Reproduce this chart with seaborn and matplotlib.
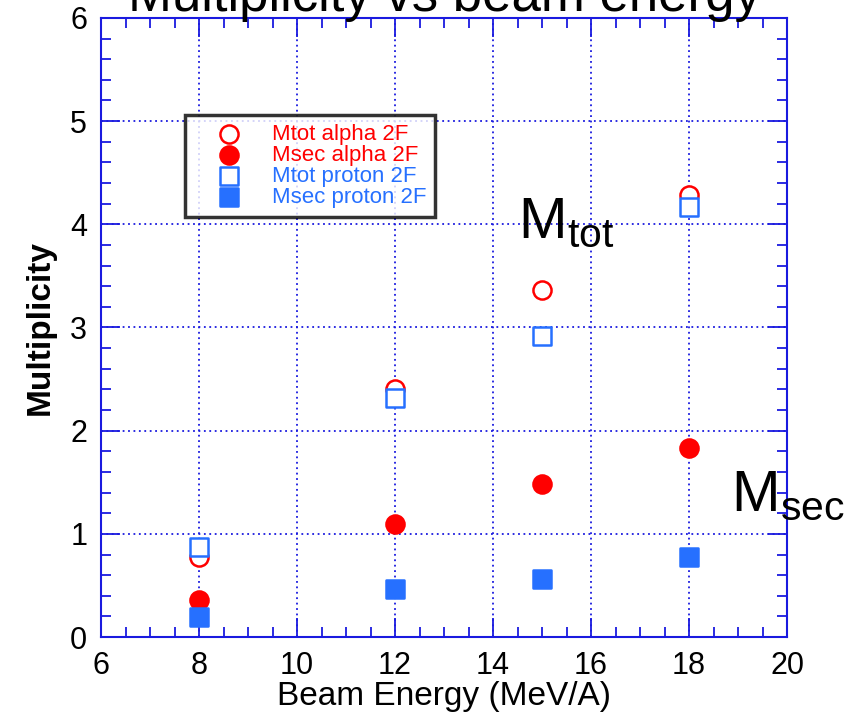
import pandas as pd
import matplotlib.pyplot as plt
import seaborn as sns
from matplotlib.ticker import MultipleLocator

sns.set_style("white", {'axes.labelcolor': 'black', 'text.color': 'black',
                        'xtick.color': 'black', 'ytick.color': 'black'})
plt.rcParams['font.family'] = ['Liberation Sans', 'DejaVu Sans']
plt.rcParams['mathtext.fontset'] = 'custom'
plt.rcParams['mathtext.rm'] = 'Liberation Sans'

# dati
energy = [8, 12, 15, 18]
mtot_alpha = [0.78, 2.40, 3.36, 4.28]
msec_alpha = [0.36, 1.10, 1.48, 1.83]
mtot_proton = [0.87, 2.32, 2.92, 4.17]
msec_proton = [0.19, 0.47, 0.56, 0.78]

red = '#ff0000'
blue = '#2670ff'
frame = '#1a1adf'

fig = plt.figure(figsize=(8.59, 7.15), dpi=100)
ax = fig.add_axes([0.1176, 0.109, 0.7986, 0.866])

series = [
    ('Mtot alpha 2F', mtot_alpha, 'o', 'white', red),
    ('Msec alpha 2F', msec_alpha, 'o', red, red),
    ('Mtot proton 2F', mtot_proton, 's', 'white', blue),
    ('Msec proton 2F', msec_proton, 's', blue, blue),
]
for label, vals, mk, fc, ec in series:
    df = pd.DataFrame({'energy': energy, 'mult': vals})
    sz = 170 if mk == 'o' else 150
    sns.scatterplot(data=df, x='energy', y='mult', marker=mk, s=sz,
                    facecolor=fc, edgecolor=ec, linewidth=1.8,
                    label=label, ax=ax, zorder=3)

ax.set_xlim(6, 20)
ax.set_ylim(0, 6)
ax.xaxis.set_major_locator(MultipleLocator(2))
ax.xaxis.set_minor_locator(MultipleLocator(0.5))
ax.yaxis.set_major_locator(MultipleLocator(1))
ax.yaxis.set_minor_locator(MultipleLocator(0.2))
ax.grid(True, which='major', color=frame, linestyle=(0, (1, 2)), linewidth=1.3)
for s in ax.spines.values():
    s.set_color(frame)
    s.set_linewidth(1.5)
ax.tick_params(which='both', direction='in', top=True, right=True, bottom=True,
               left=True, color=frame, width=1.3, labelsize=22, pad=10,
               labelcolor='black')
ax.tick_params(which='major', length=14)
ax.tick_params(which='minor', length=7)

ax.set_xlabel('Beam Energy (MeV/A)', fontsize=24, labelpad=0)
ax.set_ylabel('Multiplicity', fontsize=24, fontweight='bold', labelpad=10)

leg = ax.legend(loc='upper left', bbox_to_anchor=(0.1224, 0.843), fontsize=16,
                frameon=True, fancybox=False, edgecolor='black',
                labelspacing=0.0, handletextpad=0.3, borderpad=0.4,
                borderaxespad=0, handlelength=3.2, markerscale=1.0)
leg.get_frame().set_linewidth(2.5)
for txt, (_, _, _, _, c) in zip(leg.get_texts(), series):
    txt.set_color(c)

ax.text(14.5, 3.87, r'M$_\mathrm{tot}$', fontsize=42, ha='left', va='baseline')
ax.text(18.85, 1.23, r'M$_\mathrm{sec}$', fontsize=42, ha='left', va='baseline',
        zorder=5)

fig.text(0.517, 0.9846, 'Multiplicity vs beam energy', fontsize=38,
         ha='center', va='baseline')

plt.savefig('out.png', dpi=100)
plt.close()
